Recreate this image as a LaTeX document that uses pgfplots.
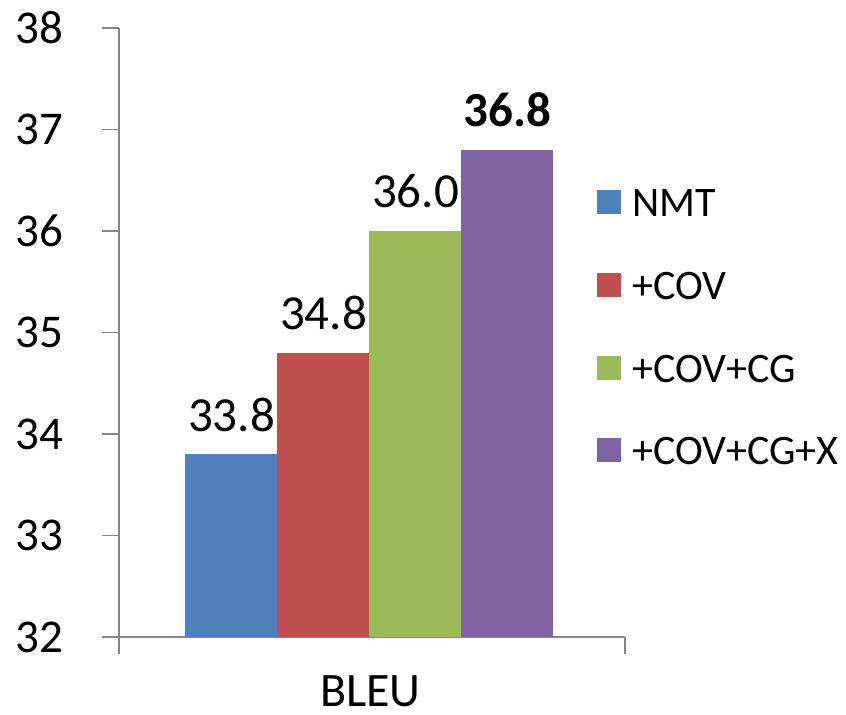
\documentclass[border=0pt]{standalone}
\usepackage{fontspec}
\setmainfont{Carlito}
\usepackage{pgfplots}
\pgfplotsset{compat=1.18}
\definecolor{cBlue}{HTML}{4F81BD}
\definecolor{cRed}{HTML}{C0504D}
\definecolor{cGreen}{HTML}{9BBB59}
\definecolor{cPurple}{HTML}{8064A2}
\definecolor{axisgray}{HTML}{868686}
\begin{document}
\begin{tikzpicture}
\begin{axis}[
  at={(0,0)}, anchor=south west,
  scale only axis, width=253pt, height=304.5pt,
  xmin=-0.99, xmax=1.01, ymin=32, ymax=38,
  ytick={32,33,34,35,36,37,38},
  xtick={-0.99,1.01}, xticklabels={},
  axis lines=left,
  axis line style={-, draw=axisgray, line width=0.75pt},
  tick style={draw=axisgray, line width=0.75pt},
  tick align=outside, major tick length=8.5pt,
  /pgf/number format/assume math mode=true,
  yticklabel style={font=\fontsize{23.5}{28}\selectfont, anchor=east, inner sep=0pt, xshift=-19pt},
  xlabel={BLEU},
  xlabel style={at={(axis description cs:0.497,0)}, anchor=base, yshift=-35pt, inner sep=0pt, font=\fontsize{24}{28}\selectfont},
  ybar=0pt, bar width=46pt,
  nodes near coords,
  nodes near coords style={font=\fontsize{24.5}{30}\selectfont, anchor=base, yshift=11.5pt, inner sep=0pt,
    /pgf/number format/fixed, /pgf/number format/fixed zerofill, /pgf/number format/precision=1},
  legend style={at={(0.9447,0.511)}, anchor=west, draw=none, fill=none, inner sep=0pt,
    font=\fontsize{21}{25}\selectfont, row sep=26.3pt,
    nodes={inner sep=0pt, text height=15pt, text depth=0pt},
    /tikz/every odd column/.append style={column sep=5.5pt}},
  legend cell align=left,
  legend image code/.code={\fill[#1] (0pt,-6.25pt) rectangle (12pt,5.75pt);},
]
\addplot[fill=cBlue, draw=none] coordinates {(0,33.8)};
\addplot[fill=cRed, draw=none] coordinates {(0,34.8)};
\addplot[fill=cGreen, draw=none] coordinates {(0,36.0)};
\addplot[fill=cPurple, draw=none, nodes near coords style={font=\fontsize{24.5}{30}\selectfont\bfseries}] coordinates {(0,36.8)};
\legend{NMT,+COV,+COV+CG,+COV+CG+X}
\end{axis}
\pgfresetboundingbox
\path[use as bounding box] (-59.5pt,-39pt) rectangle (363.5pt,318.5pt);
\end{tikzpicture}
\end{document}
